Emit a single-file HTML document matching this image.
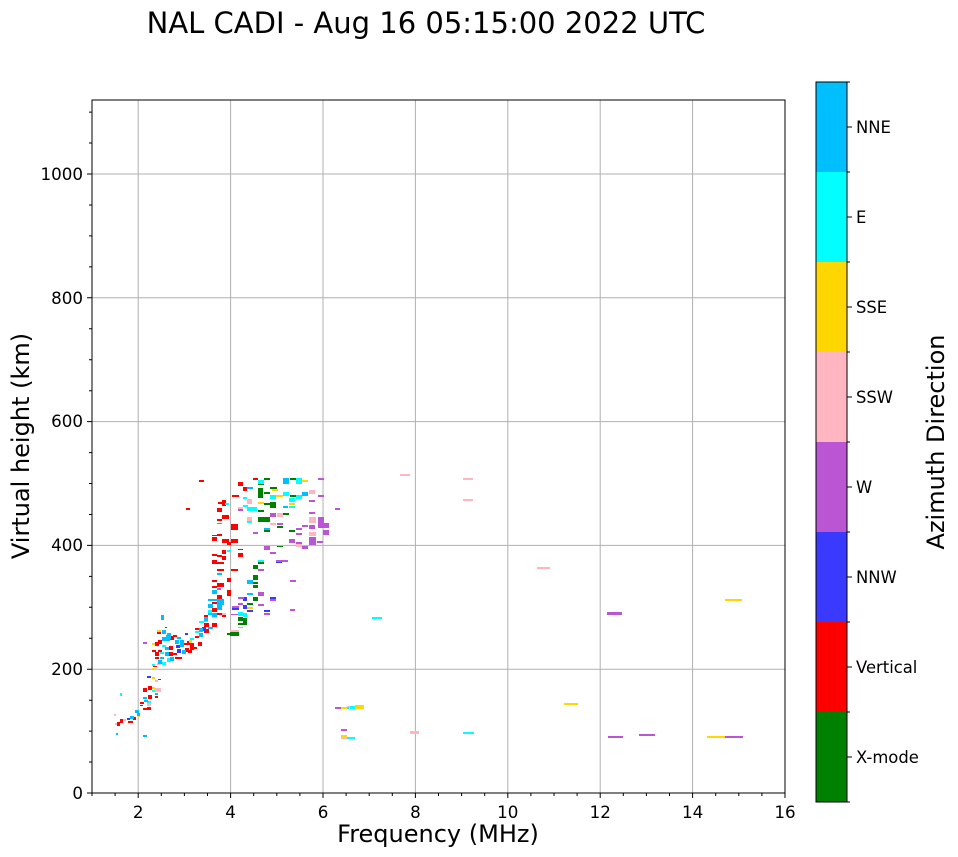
<!DOCTYPE html>
<html><head><meta charset="utf-8"><style>
html,body{margin:0;padding:0;background:#fff;}
svg{display:block;font-family:"DejaVu Sans","Liberation Sans",sans-serif;}
</style></head><body>
<svg width="958" height="857" viewBox="0 0 958 857" xmlns="http://www.w3.org/2000/svg">
<rect width="958" height="857" fill="#fff"/>
<text x="426" y="33" font-size="29" text-anchor="middle" fill="#000">NAL CADI - Aug 16 05:15:00 2022 UTC</text>
<!-- grid -->
<g stroke="#b0b0b0" stroke-width="1">
<path d="M138.2 100V793M230.6 100V793M323 100V793M415.4 100V793M507.8 100V793M600.2 100V793M692.6 100V793"/>
<path d="M92 669.2H785M92 545.4H785M92 421.6H785M92 297.8H785M92 174H785"/>
</g>
<!-- data -->
<g shape-rendering="crispEdges">
<g fill="#ff0000">
<rect x="199" y="480" width="5" height="2"/><rect x="238" y="482" width="5" height="4"/><rect x="253" y="478" width="5" height="2"/><rect x="243" y="487" width="4" height="4"/><rect x="232" y="495" width="7" height="2"/><rect x="218" y="502" width="7" height="2"/><rect x="222" y="500" width="4" height="6"/><rect x="217" y="508" width="5" height="4"/><rect x="222" y="515" width="7" height="4"/><rect x="217" y="519" width="5" height="2"/><rect x="231" y="524" width="7" height="6"/><rect x="217" y="534" width="5" height="2"/><rect x="212" y="537" width="5" height="4"/><rect x="222" y="539" width="7" height="4"/><rect x="231" y="539" width="7" height="4"/><rect x="227" y="542" width="4" height="3"/><rect x="238" y="549" width="5" height="1"/><rect x="238" y="553" width="5" height="4"/><rect x="212" y="554" width="5" height="2"/><rect x="217" y="555" width="5" height="2"/><rect x="222" y="550" width="4" height="4"/><rect x="222" y="556" width="4" height="4"/><rect x="212" y="560" width="5" height="4"/><rect x="217" y="562" width="7" height="2"/><rect x="217" y="569" width="7" height="2"/><rect x="231" y="569" width="7" height="2"/><rect x="227" y="578" width="4" height="4"/><rect x="212" y="580" width="5" height="2"/><rect x="217" y="583" width="7" height="4"/><rect x="212" y="586" width="5" height="2"/><rect x="217" y="595" width="5" height="4"/><rect x="227" y="590" width="4" height="4"/><rect x="227" y="594" width="4" height="2"/><rect x="212" y="602" width="7" height="2"/><rect x="212" y="608" width="5" height="4"/><rect x="217" y="613" width="7" height="2"/><rect x="222" y="615" width="4" height="2"/><rect x="204" y="615" width="4" height="2"/><rect x="204" y="623" width="5" height="4"/><rect x="212" y="623" width="5" height="4"/><rect x="204" y="629" width="5" height="4"/><rect x="195" y="628" width="4" height="2"/><rect x="195" y="636" width="4" height="2"/><rect x="165" y="627" width="2" height="1"/><rect x="157" y="632" width="4" height="2"/><rect x="173" y="635" width="4" height="2"/><rect x="155" y="642" width="4" height="4"/><rect x="158" y="640" width="4" height="4"/><rect x="170" y="636" width="4" height="4"/><rect x="183" y="643" width="4" height="2"/><rect x="187" y="641" width="4" height="4"/><rect x="190" y="643" width="4" height="4"/><rect x="198" y="642" width="4" height="4"/><rect x="185" y="648" width="4" height="4"/><rect x="188" y="650" width="4" height="3"/><rect x="190" y="646" width="4" height="4"/><rect x="193" y="647" width="4" height="2"/><rect x="169" y="646" width="4" height="4"/><rect x="158" y="650" width="4" height="2"/><rect x="152" y="650" width="4" height="2"/><rect x="155" y="652" width="4" height="4"/><rect x="169" y="652" width="4" height="4"/><rect x="173" y="653" width="4" height="2"/><rect x="175" y="657" width="4" height="2"/><rect x="178" y="657" width="4" height="2"/><rect x="155" y="657" width="4" height="2"/><rect x="162" y="663" width="4" height="2"/><rect x="153" y="666" width="4" height="1"/><rect x="158" y="679" width="3" height="1"/><rect x="143" y="688" width="4" height="4"/><rect x="148" y="686" width="4" height="4"/><rect x="148" y="695" width="4" height="4"/><rect x="155" y="696" width="3" height="2"/><rect x="140" y="702" width="4" height="2"/><rect x="140" y="705" width="3" height="1"/><rect x="147" y="707" width="4" height="3"/><rect x="143" y="708" width="4" height="2"/><rect x="133" y="717" width="3" height="3"/><rect x="128" y="721" width="5" height="2"/><rect x="120" y="719" width="3" height="4"/><rect x="117" y="722" width="3" height="4"/><rect x="186" y="508" width="4" height="2"/>
</g>
<g fill="#008000">
<rect x="264" y="478" width="6" height="2"/><rect x="290" y="478" width="7" height="2"/><rect x="258" y="483" width="6" height="2"/><rect x="258" y="488" width="5" height="10"/><rect x="270" y="487" width="7" height="2"/><rect x="264" y="492" width="6" height="2"/><rect x="290" y="495" width="6" height="2"/><rect x="264" y="503" width="6" height="2"/><rect x="270" y="502" width="6" height="6"/><rect x="258" y="510" width="6" height="2"/><rect x="283" y="513" width="6" height="2"/><rect x="258" y="517" width="12" height="5"/><rect x="277" y="526" width="6" height="2"/><rect x="264" y="530" width="6" height="2"/><rect x="289" y="530" width="6" height="2"/><rect x="277" y="546" width="6" height="1"/><rect x="258" y="562" width="6" height="2"/><rect x="253" y="565" width="5" height="4"/><rect x="253" y="575" width="5" height="5"/><rect x="253" y="582" width="5" height="2"/><rect x="253" y="585" width="5" height="3"/><rect x="253" y="597" width="5" height="4"/><rect x="247" y="603" width="6" height="2"/><rect x="238" y="617" width="5" height="4"/><rect x="243" y="618" width="4" height="6"/><rect x="238" y="623" width="9" height="2"/><rect x="227" y="633" width="4" height="2"/><rect x="230" y="632" width="9" height="4"/>
</g>
<g fill="#3a3aff">
<rect x="212" y="535" width="5" height="1"/><rect x="276" y="562" width="6" height="1"/><rect x="243" y="597" width="4" height="4"/><rect x="270" y="597" width="6" height="2"/><rect x="232" y="608" width="7" height="2"/><rect x="243" y="605" width="4" height="4"/><rect x="247" y="610" width="6" height="2"/><rect x="264" y="610" width="6" height="2"/><rect x="202" y="627" width="4" height="4"/><rect x="212" y="590" width="5" height="4"/><rect x="185" y="633" width="3" height="2"/><rect x="176" y="645" width="4" height="3"/><rect x="177" y="649" width="4" height="4"/><rect x="147" y="676" width="4" height="2"/><rect x="127" y="718" width="3" height="2"/>
</g>
<g fill="#ba55d3">
<rect x="318" y="478" width="6" height="2"/><rect x="238" y="509" width="5" height="2"/><rect x="270" y="513" width="6" height="4"/><rect x="309" y="500" width="6" height="2"/><rect x="318" y="495" width="6" height="2"/><rect x="309" y="512" width="6" height="2"/><rect x="318" y="517" width="6" height="6"/><rect x="335" y="508" width="5" height="2"/><rect x="277" y="523" width="6" height="2"/><rect x="296" y="528" width="6" height="2"/><rect x="302" y="525" width="6" height="2"/><rect x="309" y="525" width="6" height="4"/><rect x="318" y="523" width="6" height="5"/><rect x="323" y="523" width="6" height="5"/><rect x="323" y="530" width="6" height="5"/><rect x="253" y="532" width="5" height="2"/><rect x="296" y="533" width="6" height="2"/><rect x="264" y="546" width="6" height="4"/><rect x="270" y="552" width="6" height="2"/><rect x="289" y="539" width="6" height="4"/><rect x="296" y="542" width="6" height="2"/><rect x="302" y="546" width="6" height="3"/><rect x="309" y="537" width="7" height="8"/><rect x="317" y="541" width="6" height="2"/><rect x="276" y="560" width="12" height="2"/><rect x="258" y="569" width="6" height="2"/><rect x="290" y="580" width="6" height="2"/><rect x="258" y="592" width="6" height="4"/><rect x="217" y="588" width="4" height="2"/><rect x="238" y="597" width="6" height="2"/><rect x="270" y="599" width="6" height="2"/><rect x="232" y="606" width="7" height="2"/><rect x="238" y="603" width="5" height="2"/><rect x="258" y="604" width="6" height="2"/><rect x="264" y="613" width="6" height="2"/><rect x="231" y="614" width="7" height="1"/><rect x="143" y="642" width="4" height="2"/><rect x="290" y="609" width="5" height="2"/><rect x="335" y="707" width="6" height="2"/><rect x="341" y="729" width="6" height="2"/><rect x="607" y="612" width="15" height="3"/><rect x="608" y="736" width="15" height="2"/><rect x="639" y="734" width="16" height="2"/><rect x="725" y="736" width="18" height="2"/>
</g>
<g fill="#ffb6c1">
<rect x="309" y="490" width="6" height="4"/><rect x="247" y="499" width="5" height="5"/><rect x="238" y="507" width="5" height="2"/><rect x="277" y="513" width="6" height="4"/><rect x="309" y="517" width="7" height="6"/><rect x="247" y="517" width="5" height="5"/><rect x="270" y="523" width="6" height="2"/><rect x="309" y="532" width="7" height="4"/><rect x="296" y="544" width="6" height="3"/><rect x="222" y="613" width="4" height="2"/><rect x="230" y="630" width="9" height="2"/><rect x="157" y="663" width="4" height="2"/><rect x="155" y="680" width="3" height="2"/><rect x="154" y="688" width="7" height="4"/><rect x="147" y="703" width="4" height="3"/><rect x="123" y="719" width="3" height="2"/><rect x="115" y="723" width="2" height="2"/><rect x="114" y="714" width="2" height="2"/><rect x="341" y="737" width="6" height="2"/><rect x="400" y="474" width="10" height="2"/><rect x="463" y="478" width="10" height="2"/><rect x="463" y="499" width="10" height="2"/><rect x="537" y="567" width="13" height="2"/><rect x="410" y="731" width="9" height="3"/><rect x="347" y="706" width="8" height="2"/>
</g>
<g fill="#ffd700">
<rect x="302" y="480" width="6" height="2"/><rect x="272" y="489" width="6" height="2"/><rect x="276" y="495" width="7" height="2"/><rect x="258" y="502" width="6" height="2"/><rect x="289" y="503" width="6" height="2"/><rect x="247" y="607" width="6" height="2"/><rect x="212" y="616" width="5" height="2"/><rect x="157" y="630" width="4" height="2"/><rect x="189" y="640" width="3" height="3"/><rect x="152" y="643" width="3" height="2"/><rect x="152" y="668" width="3" height="1"/><rect x="152" y="677" width="3" height="2"/><rect x="152" y="687" width="3" height="2"/><rect x="138" y="715" width="2" height="2"/><rect x="341" y="707" width="6" height="2"/><rect x="355" y="705" width="9" height="4"/><rect x="341" y="735" width="6" height="2"/><rect x="725" y="599" width="17" height="2"/><rect x="564" y="703" width="14" height="2"/><rect x="707" y="736" width="18" height="2"/>
</g>
<g fill="#00ffff">
<rect x="258" y="480" width="6" height="4"/><rect x="296" y="478" width="6" height="6"/><rect x="270" y="495" width="6" height="4"/><rect x="283" y="492" width="6" height="4"/><rect x="296" y="495" width="6" height="4"/><rect x="289" y="498" width="6" height="4"/><rect x="243" y="497" width="4" height="2"/><rect x="225" y="503" width="4" height="2"/><rect x="243" y="505" width="5" height="2"/><rect x="247" y="507" width="10" height="4"/><rect x="289" y="506" width="6" height="2"/><rect x="247" y="521" width="5" height="2"/><rect x="227" y="550" width="4" height="2"/><rect x="258" y="560" width="6" height="2"/><rect x="208" y="610" width="4" height="4"/><rect x="238" y="612" width="5" height="4"/><rect x="243" y="613" width="4" height="4"/><rect x="238" y="627" width="5" height="1"/><rect x="204" y="620" width="4" height="2"/><rect x="199" y="621" width="5" height="2"/><rect x="195" y="631" width="4" height="2"/><rect x="190" y="638" width="4" height="2"/><rect x="162" y="645" width="4" height="2"/><rect x="160" y="652" width="4" height="2"/><rect x="167" y="658" width="4" height="4"/><rect x="162" y="662" width="4" height="3"/><rect x="152" y="664" width="3" height="2"/><rect x="152" y="690" width="3" height="2"/><rect x="120" y="693" width="2" height="3"/><rect x="147" y="701" width="4" height="2"/><rect x="347" y="707" width="2" height="2"/><rect x="347" y="737" width="8" height="2"/><rect x="372" y="617" width="10" height="2"/><rect x="463" y="732" width="11" height="2"/><rect x="350" y="706" width="5" height="3"/>
</g>
<g fill="#00bfff">
<rect x="283" y="478" width="6" height="6"/><rect x="247" y="487" width="6" height="2"/><rect x="302" y="492" width="6" height="4"/><rect x="283" y="506" width="5" height="2"/><rect x="217" y="523" width="5" height="1"/><rect x="264" y="528" width="6" height="2"/><rect x="217" y="573" width="5" height="2"/><rect x="247" y="580" width="6" height="4"/><rect x="212" y="590" width="5" height="4"/><rect x="247" y="593" width="6" height="2"/><rect x="208" y="599" width="9" height="2"/><rect x="217" y="599" width="7" height="6"/><rect x="208" y="604" width="5" height="4"/><rect x="217" y="604" width="5" height="6"/><rect x="208" y="613" width="4" height="2"/><rect x="212" y="613" width="5" height="4"/><rect x="204" y="617" width="4" height="4"/><rect x="208" y="627" width="5" height="2"/><rect x="199" y="628" width="4" height="4"/><rect x="199" y="633" width="4" height="4"/><rect x="161" y="615" width="3" height="5"/><rect x="162" y="630" width="4" height="4"/><rect x="167" y="633" width="4" height="6"/><rect x="177" y="637" width="4" height="2"/><rect x="180" y="640" width="4" height="4"/><rect x="162" y="637" width="4" height="4"/><rect x="166" y="635" width="4" height="6"/><rect x="175" y="640" width="4" height="4"/><rect x="180" y="643" width="4" height="4"/><rect x="182" y="650" width="4" height="4"/><rect x="165" y="647" width="4" height="3"/><rect x="165" y="652" width="4" height="4"/><rect x="170" y="657" width="4" height="4"/><rect x="160" y="657" width="4" height="2"/><rect x="158" y="660" width="4" height="4"/><rect x="155" y="693" width="3" height="2"/><rect x="143" y="697" width="4" height="2"/><rect x="144" y="700" width="4" height="2"/><rect x="135" y="710" width="4" height="3"/><rect x="137" y="713" width="3" height="3"/><rect x="130" y="716" width="4" height="3"/><rect x="116" y="733" width="2" height="2"/><rect x="143" y="735" width="4" height="2"/>
</g>
</g>
<!-- axes -->
<rect x="92" y="100" width="693" height="693" fill="none" stroke="#000" stroke-width="1"/>
<g stroke="#000" stroke-width="1">
<path d="M138.2 793v5M230.6 793v5M323 793v5M415.4 793v5M507.8 793v5M600.2 793v5M692.6 793v5M785 793v5"/>
<path d="M92 793v3M115.1 793v3M161.3 793v3M184.4 793v3M207.5 793v3M253.7 793v3M276.8 793v3M299.9 793v3M346.1 793v3M369.2 793v3M392.3 793v3M438.5 793v3M461.6 793v3M484.7 793v3M530.9 793v3M554 793v3M577.1 793v3M623.3 793v3M646.4 793v3M669.5 793v3M715.7 793v3M738.8 793v3M761.9 793v3"/>
<path d="M92 793h-5M92 669.2h-5M92 545.4h-5M92 421.6h-5M92 297.8h-5M92 174h-5"/>
<path d="M92 762h-3M92 731.1h-3M92 700.2h-3M92 638.3h-3M92 607.3h-3M92 576.4h-3M92 514.5h-3M92 483.5h-3M92 452.6h-3M92 390.7h-3M92 359.7h-3M92 328.8h-3M92 266.9h-3M92 235.9h-3M92 205h-3M92 143h-3M92 112.1h-3"/>
</g>
<g font-size="16.7" fill="#000" text-anchor="middle">
<text x="138.2" y="818">2</text><text x="230.6" y="818">4</text><text x="323" y="818">6</text><text x="415.4" y="818">8</text><text x="507.8" y="818">10</text><text x="600.2" y="818">12</text><text x="692.6" y="818">14</text><text x="785" y="818">16</text>
</g>
<g font-size="16.7" fill="#000" text-anchor="end">
<text x="83" y="799">0</text><text x="83" y="675">200</text><text x="83" y="551">400</text><text x="83" y="427">600</text><text x="83" y="304">800</text><text x="83" y="180">1000</text>
</g>
<text x="438" y="842" font-size="24" text-anchor="middle">Frequency (MHz)</text>
<text transform="translate(29,446) rotate(-90)" font-size="24" text-anchor="middle">Virtual height (km)</text>
<!-- colorbar -->
<g shape-rendering="crispEdges">
<rect x="816" y="82" width="31" height="90" fill="#00bfff"/>
<rect x="816" y="172" width="31" height="90" fill="#00ffff"/>
<rect x="816" y="262" width="31" height="90" fill="#ffd700"/>
<rect x="816" y="352" width="31" height="90" fill="#ffb6c1"/>
<rect x="816" y="442" width="31" height="90" fill="#ba55d3"/>
<rect x="816" y="532" width="31" height="90" fill="#3a3aff"/>
<rect x="816" y="622" width="31" height="90" fill="#ff0000"/>
<rect x="816" y="712" width="31" height="90" fill="#008000"/>
</g>
<rect x="816" y="82" width="31" height="720" fill="none" stroke="#000" stroke-width="1"/>
<g stroke="#000" stroke-width="1">
<path d="M847 127h5M847 217h5M847 307h5M847 397h5M847 487h5M847 577h5M847 667h5M847 757h5"/>
<path d="M847 82h3M847 172h3M847 262h3M847 352h3M847 442h3M847 532h3M847 622h3M847 712h3M847 802h3"/>
</g>
<g font-size="16.4" fill="#000">
<text x="856" y="133">NNE</text><text x="856" y="223">E</text><text x="856" y="313">SSE</text><text x="856" y="403">SSW</text><text x="856" y="493">W</text><text x="856" y="583">NNW</text><text x="856" y="673">Vertical</text><text x="856" y="763">X-mode</text>
</g>
<text transform="translate(944,442) rotate(-90)" font-size="24" text-anchor="middle">Azimuth Direction</text>
</svg>
</body></html>
